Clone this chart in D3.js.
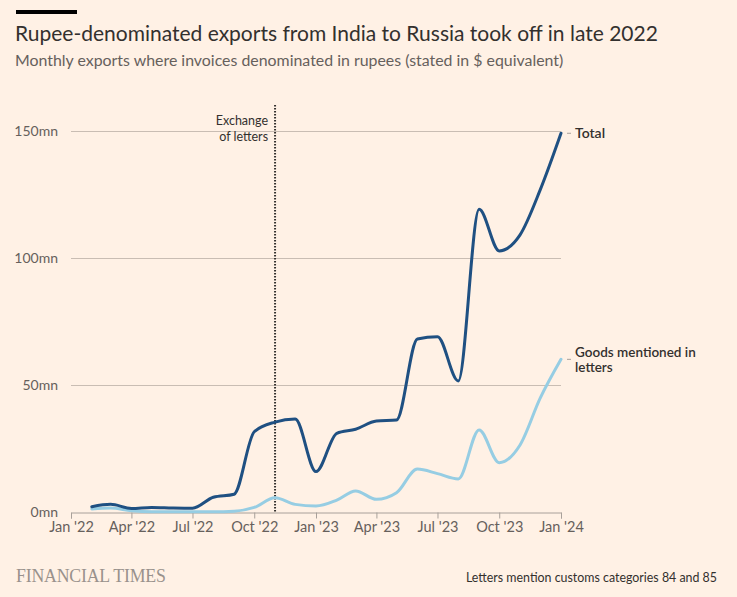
<!DOCTYPE html>
<html>
<head>
<meta charset="utf-8">
<script src="https://cdn.jsdelivr.net/npm/d3@7"></script>
<style>
  html, body { margin: 0; padding: 0; background: #fff1e5; }
  svg { display: block; font-family: Lato, "Open Sans", sans-serif; }
</style>
</head>
<body>
<svg id="chart" width="737" height="597"></svg>
<script>
// ---- Data (monthly, $mn equivalent) ----
const months = ["2022-02","2022-03","2022-04","2022-05","2022-06","2022-07","2022-08","2022-09","2022-10","2022-11","2022-12",
                "2023-01","2023-02","2023-03","2023-04","2023-05","2023-06","2023-07","2023-08","2023-09","2023-10","2023-11","2023-12","2024-01"];
const totalValues = [2.3, 3.2, 1.6, 2.0, 1.8, 1.7, 6.0, 7.2, 31.8, 35.6, 36.8,
                     16.1, 31.2, 32.8, 36.0, 36.4, 68.3, 69.2, 51.8, 119.4, 103.0, 109.3, 127.0, 149.3];
const goodsValues = [1.4, 1.8, 0.7, 0.3, 0.3, 0.3, 0.3, 0.5, 2.0, 5.8, 3.2,
                     2.6, 4.9, 8.5, 5.2, 7.8, 17.1, 15.3, 13.2, 32.5, 19.6, 26.6, 45.0, 60.3];
const yTicks = [0, 50, 100, 150];
const xTickDates = ["2022-01","2022-04","2022-07","2022-10","2023-01","2023-04","2023-07","2023-10","2024-01"];
const lettersDate = "2022-11-01";
const seriesNames = ["Total", "Goods mentioned in letters"];

const parse = d3.timeParse("%Y-%m");
const fmtTick = d => d3.timeFormat("%b '%y")(d);

const svg = d3.select("#chart");
const W = 737, H = 597;
const margin = {left: 71, right: 176, top: 132, bottom: 84};

const x = d3.scaleTime()
  .domain([parse("2022-01"), parse("2024-01")])
  .range([margin.left, W - margin.right]);
const y = d3.scaleLinear()
  .domain([0, 150])
  .range([H - margin.bottom - 0.5, margin.top - 0.5]);

// Header
svg.append("rect").attr("x", 16).attr("y", 10).attr("width", 61).attr("height", 4).attr("fill", "#000");
svg.append("text").attr("x", 15).attr("y", 41)
  .attr("font-size", 21).attr("fill", "#33302e")
  .text("Rupee-denominated exports from India to Russia took off in late 2022");
svg.append("text").attr("x", 15).attr("y", 66)
  .attr("font-size", 15.9).attr("fill", "#66605c")
  .text("Monthly exports where invoices denominated in rupees (stated in $ equivalent)");

// Grid + y labels
const yAxis = svg.append("g");
yTicks.forEach(t => {
  if (t > 0) {
    yAxis.append("line").attr("x1", x.range()[0]).attr("x2", x.range()[1])
      .attr("y1", y(t)).attr("y2", y(t)).attr("stroke", "#c9bdb3").attr("stroke-width", 1);
  }
  yAxis.append("text").attr("x", 58).attr("y", y(t)).attr("dy", "0.35em")
    .attr("text-anchor", "end").attr("font-size", 14).attr("fill", "#66605c")
    .text(t + "mn");
});

// X axis
const xAxis = d3.axisBottom(x)
  .tickValues(xTickDates.map(parse))
  .tickFormat(fmtTick)
  .tickSize(6).tickPadding(3);
const gx = svg.append("g").attr("transform", `translate(0,${y(0)})`).call(xAxis);
gx.attr("font-family", null).attr("font-size", null);
gx.select(".domain").attr("stroke", "#a8a09a");
gx.selectAll(".tick line").attr("stroke", "#a8a09a");
gx.selectAll(".tick text").attr("font-size", 14.5).attr("fill", "#66605c");

// Exchange of letters annotation
const lx = x(d3.timeParse("%Y-%m-%d")(lettersDate));
svg.append("line").attr("x1", lx).attr("x2", lx).attr("y1", 105).attr("y2", y(0))
  .attr("stroke", "#33302e").attr("stroke-width", 2).attr("stroke-dasharray", "1.5,1.5");
svg.append("text").attr("text-anchor", "end").attr("font-size", 12.5).attr("fill", "#33302e")
  .attr("x", lx - 7).attr("y", 125).text("Exchange");
svg.append("text").attr("text-anchor", "end").attr("font-size", 12.5).attr("fill", "#33302e")
  .attr("x", lx - 7).attr("y", 141).text("of letters");

// Lines
const dates = months.map(parse);
const line = d3.line().x((d, i) => x(dates[i])).y(d => y(d)).curve(d3.curveMonotoneX);
const series = [
  {name: seriesNames[0], values: totalValues, color: "#1f5082"},
  {name: seriesNames[1], values: goodsValues, color: "#96cde3"}
];
svg.append("path").datum(goodsValues).attr("d", line).attr("fill", "none")
  .attr("stroke", series[1].color).attr("stroke-width", 3).attr("stroke-linejoin", "round").attr("stroke-linecap", "round");
svg.append("path").datum(totalValues).attr("d", line).attr("fill", "none")
  .attr("stroke", series[0].color).attr("stroke-width", 3).attr("stroke-linejoin", "round").attr("stroke-linecap", "round");

// End labels
const xEnd = x(dates[dates.length - 1]);
const yT = y(totalValues[totalValues.length - 1]);
svg.append("line").attr("x1", xEnd + 6).attr("x2", xEnd + 10).attr("y1", yT).attr("y2", yT).attr("stroke", "#a8a09a");
svg.append("text").attr("x", xEnd + 14).attr("y", yT).attr("dy", "0.35em")
  .attr("font-size", 14).attr("font-weight", 600).attr("fill", "#33302e").text(seriesNames[0]);
const yG = y(goodsValues[goodsValues.length - 1]);
svg.append("line").attr("x1", xEnd + 6).attr("x2", xEnd + 10).attr("y1", yG).attr("y2", yG).attr("stroke", "#a8a09a");
svg.append("text").attr("font-size", 13.5).attr("font-weight", 600).attr("fill", "#33302e")
  .attr("x", xEnd + 14).attr("y", yG - 2).text("Goods mentioned in");
svg.append("text").attr("font-size", 13.5).attr("font-weight", 600).attr("fill", "#33302e")
  .attr("x", xEnd + 14).attr("y", yG + 13).text("letters");

// Footer
svg.append("text").attr("x", 16).attr("y", 582)
  .style("font-family", "'Liberation Serif', 'DejaVu Serif', serif").attr("font-size", 17.8)
  .attr("letter-spacing", -0.2).attr("fill", "#99918c")
  .text("FINANCIAL TIMES");
svg.append("text").attr("x", 717).attr("y", 582).attr("text-anchor", "end")
  .attr("font-size", 12.4).attr("fill", "#33302e")
  .text("Letters mention customs categories 84 and 85");
</script>
</body>
</html>
